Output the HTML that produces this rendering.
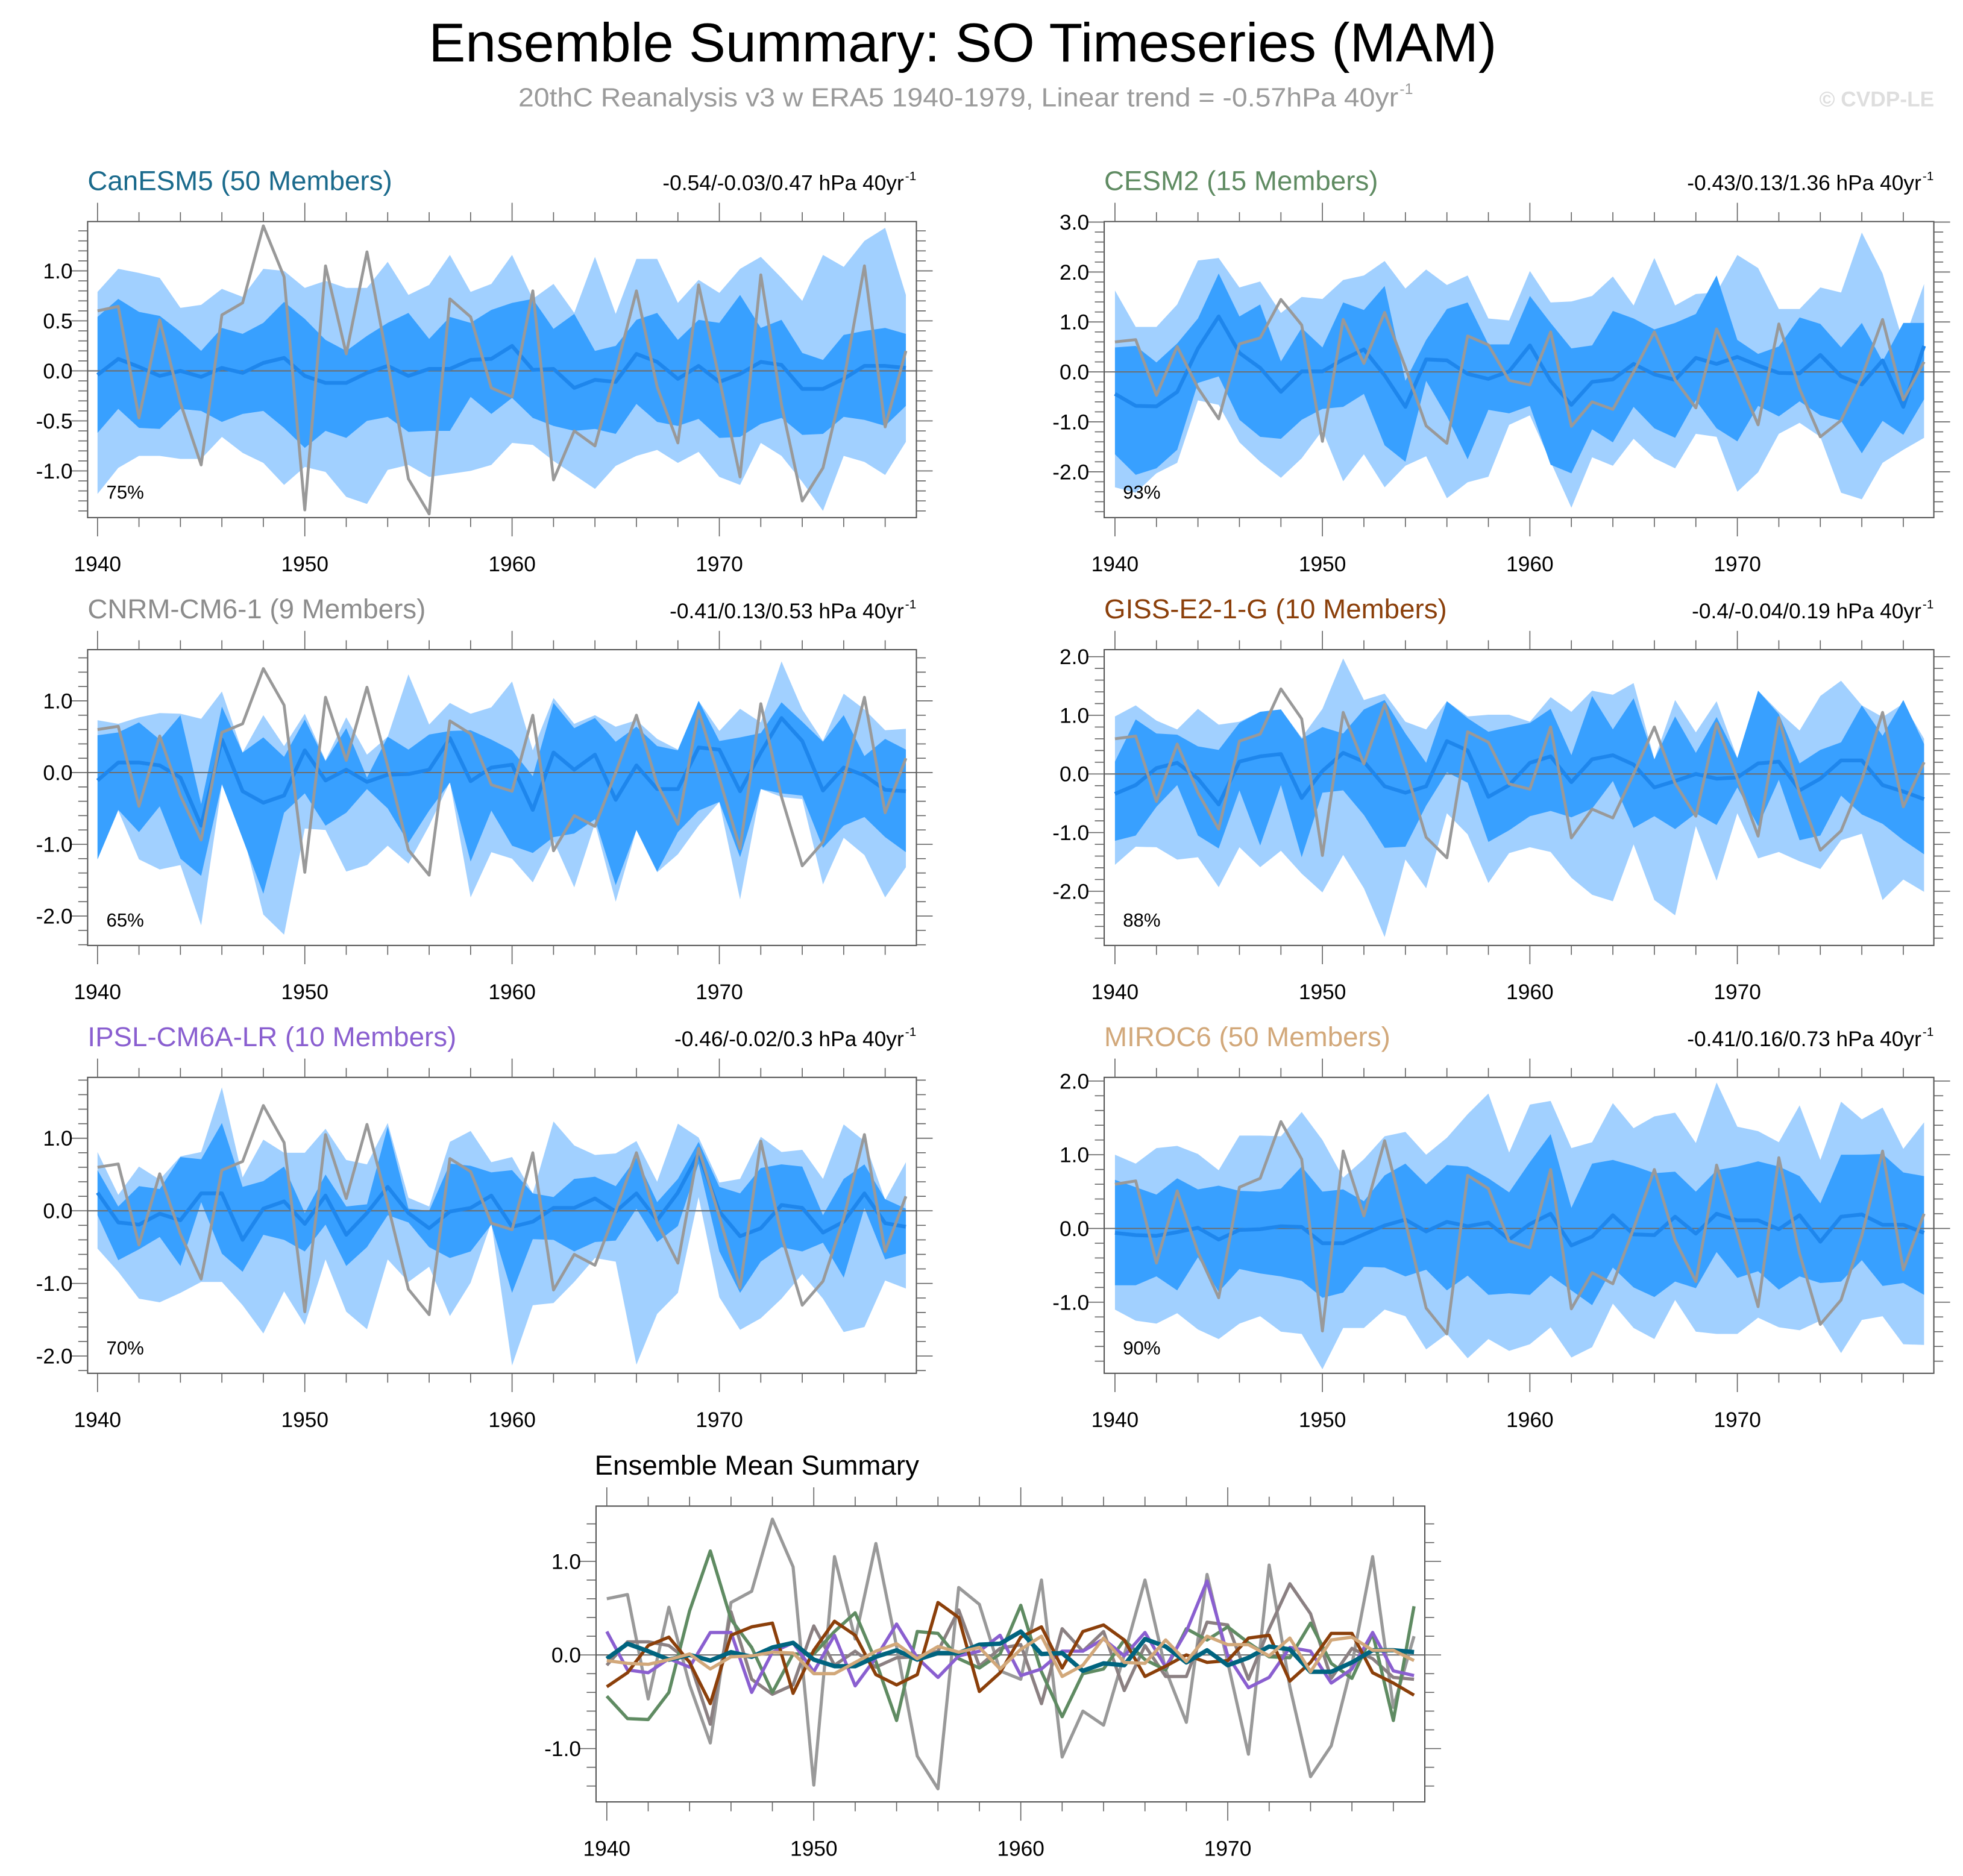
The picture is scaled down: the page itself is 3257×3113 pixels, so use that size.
<!DOCTYPE html>
<html><head><meta charset="utf-8"><title>Ensemble Summary: SO Timeseries (MAM)</title>
<style>html,body{margin:0;padding:0;background:#fff}svg{display:block}</style></head>
<body>
<svg id="chart" xmlns="http://www.w3.org/2000/svg" width="3257" height="3113" viewBox="0 0 1568 1498.7" preserveAspectRatio="none" font-family="'Liberation Sans', sans-serif">
<text x="769" y="49" font-size="44" text-anchor="middle" fill="#000">Ensemble Summary: SO Timeseries (MAM)</text>
<text x="414" y="85" font-size="21" fill="#9a9a9a" textLength="703" lengthAdjust="spacingAndGlyphs">20thC Reanalysis v3 w ERA5 1940-1979, Linear trend = -0.57hPa 40yr</text>
<text x="1118" y="75" font-size="12" fill="#9a9a9a">-1</text>
<text x="1545" y="85" font-size="17" font-weight="bold" text-anchor="end" fill="#dedede">© CVDP-LE</text>
<text x="475" y="1178" font-size="22" fill="#000">Ensemble Mean Summary</text>
<g id="plots"></g>
</svg>
<script>
const years = [1940,1941,1942,1943,1944,1945,1946,1947,1948,1949,1950,1951,1952,1953,1954,1955,1956,1957,1958,1959,1960,1961,1962,1963,1964,1965,1966,1967,1968,1969,1970,1971,1972,1973,1974,1975,1976,1977,1978,1979];
const obs = [0.60,0.645,-0.47,0.51,-0.32,-0.94,0.56,0.68,1.45,0.94,-1.39,1.05,0.17,1.19,0.09,-1.08,-1.43,0.72,0.54,-0.17,-0.26,0.80,-1.09,-0.60,-0.75,0.0,0.80,-0.16,-0.72,0.86,-0.08,-1.06,0.96,-0.34,-1.30,-0.97,-0.10,1.05,-0.56,0.20];

const canMean = [-0.04,0.12,0.04,-0.05,0,-0.06,0.03,-0.02,0.08,0.13,-0.05,-0.12,-0.12,-0.02,0.05,-0.05,0.02,0.02,0.11,0.12,0.25,0.01,0.02,-0.17,-0.09,-0.11,0.17,0.09,-0.08,0.05,-0.11,-0.03,0.09,0.06,-0.18,-0.18,-0.08,0.05,0.05,0.03];
const canDarkHi = [0.54,0.72,0.59,0.55,0.39,0.2,0.43,0.37,0.48,0.69,0.52,0.31,0.2,0.35,0.48,0.58,0.32,0.54,0.48,0.61,0.68,0.72,0.42,0.57,0.2,0.25,0.51,0.58,0.31,0.51,0.48,0.76,0.43,0.51,0.18,0.11,0.36,0.40,0.43,0.37];
const canDarkLo = [-0.62,-0.38,-0.57,-0.58,-0.38,-0.40,-0.51,-0.43,-0.40,-0.57,-0.77,-0.6,-0.67,-0.5,-0.46,-0.61,-0.60,-0.6,-0.26,-0.43,-0.27,-0.47,-0.55,-0.6,-0.58,-0.63,-0.33,-0.51,-0.55,-0.48,-0.67,-0.66,-0.53,-0.47,-0.64,-0.63,-0.46,-0.49,-0.55,-0.35];
const canLightHi = [0.79,1.02,0.98,0.93,0.63,0.66,0.82,0.74,1.02,1.0,0.83,0.9,0.83,0.83,1.09,0.76,0.86,1.16,0.79,0.87,1.16,0.72,0.87,0.58,1.14,0.57,1.12,1.12,0.68,0.91,0.78,1.02,1.14,0.93,0.70,1.16,1.04,1.30,1.43,0.76];
const canLightLo = [-1.23,-0.97,-0.85,-0.85,-0.88,-0.88,-0.66,-0.82,-0.92,-1.14,-0.96,-1.01,-1.26,-1.33,-0.99,-0.94,-1.06,-1.03,-1.0,-0.94,-0.72,-0.74,-0.9,-1.04,-1.18,-0.95,-0.85,-0.79,-0.92,-0.81,-1.06,-1.14,-0.72,-0.85,-1.11,-1.40,-0.85,-0.91,-1.04,-0.71];

const cesmMean = [-0.44,-0.68,-0.69,-0.40,0.47,1.11,0.38,0.08,-0.40,0.01,0.01,0.25,0.45,-0.07,-0.70,0.25,0.23,-0.04,-0.14,0.01,0.53,-0.18,-0.66,-0.20,-0.15,0.16,-0.05,-0.16,0.28,0.16,0.30,0.13,-0.02,-0.03,0.34,-0.09,-0.25,0.23,-0.70,0.52];
const cesmDarkHi = [0.49,0.52,0.19,0.57,1.07,1.97,1.11,1.35,0.21,0.88,0.49,1.39,1.24,1.72,-0.18,0.64,1.26,1.39,0.55,0.55,1.52,0.98,0.47,0.53,1.22,1.07,0.85,0.98,1.16,1.93,0.64,0.36,0.51,1.09,0.96,0.49,0.98,0.21,0.98,0.98];
const cesmDarkLo = [-1.65,-2.06,-1.93,-1.56,-0.22,-0.09,-0.96,-1.30,-1.34,-0.96,-0.74,-0.70,-0.44,-1.47,-1.80,-0.18,-0.89,-1.75,-0.76,-0.83,-0.68,-1.86,-2.03,-1.15,-1.41,-0.70,-1.13,-1.32,-0.57,-1.13,-1.39,-0.68,-0.89,-0.59,-0.87,-0.98,-1.63,-0.98,-1.26,-0.55];
const cesmLightHi = [1.63,0.90,0.90,1.35,2.23,2.28,1.69,1.81,1.18,1.50,1.46,1.84,1.93,2.22,1.67,2.05,1.74,1.93,1.07,1.03,2.02,1.39,1.41,1.52,1.91,1.33,2.28,1.33,1.56,1.59,2.34,2.08,1.26,1.26,1.69,1.59,2.79,1.97,0.59,1.76];
const cesmLightLo = [-2.31,-2.42,-2.03,-1.82,-0.57,-0.66,-1.41,-1.80,-2.12,-1.73,-1.17,-2.19,-1.65,-2.31,-1.88,-1.69,-2.53,-2.21,-2.10,-1.06,-0.87,-1.80,-2.72,-1.71,-1.88,-1.34,-1.73,-1.93,-1.24,-1.30,-2.40,-2.01,-1.24,-1.02,-1.30,-2.42,-2.55,-1.82,-1.56,-1.32];

const cnrmMean = [-0.11,0.14,0.14,0.10,-0.07,-0.74,0.46,-0.26,-0.42,-0.32,0.31,-0.11,0.04,-0.13,-0.03,-0.02,0.04,0.48,-0.12,0.07,0.11,-0.52,0.28,0.04,0.25,-0.38,0.10,-0.23,-0.23,0.35,0.32,-0.26,0.28,0.76,0.44,-0.25,0.07,-0.04,-0.24,-0.26];
const cnrmDarkHi = [0.52,0.56,0.70,0.46,0.80,-0.44,0.92,0.28,0.49,0.22,0.74,0.16,0.62,-0.07,0.50,0.32,0.53,0.58,0.59,0.46,0.31,-0.05,0.97,0.62,0.76,0.43,0.64,0.37,0.31,1.00,0.44,0.49,0.55,0.98,0.71,0.43,0.80,0.23,0.47,0.32];
const cnrmDarkLo = [-1.21,-0.52,-0.83,-0.47,-1.20,-1.44,-0.16,-0.92,-1.69,-0.56,-0.29,-0.74,-0.56,-0.23,-0.50,-0.98,-0.53,-0.14,-1.24,-0.53,-1.02,-1.12,-0.90,-0.85,-0.65,-1.57,-0.80,-1.38,-0.83,-0.53,-0.41,-1.18,-0.23,-0.29,-0.32,-1.05,-0.74,-0.62,-0.90,-1.11];
const cnrmLightHi = [0.73,0.68,0.77,0.83,0.82,0.75,1.13,0.28,0.80,0.37,0.82,0.17,0.77,0.25,0.50,1.37,0.67,0.97,0.82,0.91,1.27,0.31,1.04,0.68,0.80,0.64,0.73,0.47,0.32,1.00,0.58,0.89,0.70,1.55,0.88,0.44,1.10,0.88,0.59,0.61];
const cnrmLightLo = [-1.21,-0.53,-1.21,-1.35,-1.29,-2.13,-0.17,-0.83,-1.98,-2.26,-0.78,-0.80,-1.38,-1.29,-1.02,-1.27,-0.74,-0.13,-1.74,-1.11,-1.20,-1.53,-0.95,-1.60,-0.71,-1.80,-0.80,-1.39,-1.14,-0.74,-0.41,-1.77,-0.23,-0.34,-0.37,-1.56,-0.91,-1.15,-1.74,-1.32];

const gissMean = [-0.34,-0.19,0.10,0.19,-0.08,-0.52,0.21,0.30,0.34,-0.41,0.05,0.36,0.21,-0.21,-0.32,-0.21,0.56,0.40,-0.39,-0.19,0.19,0.30,-0.14,0.25,0.32,0.16,-0.23,-0.12,0.0,-0.08,-0.06,0.18,0.21,-0.28,-0.08,0.23,0.23,-0.19,-0.30,-0.43];
const gissDarkHi = [0.21,0.93,0.69,0.67,0.47,0.41,0.87,1.06,1.10,0.60,0.80,0.69,1.10,1.26,0.69,0.19,1.24,0.95,0.72,0.80,0.87,1.11,0.32,1.33,0.76,1.29,0.25,0.98,0.36,0.97,0.27,1.42,1.02,0.18,0.41,0.54,1.17,0.65,1.26,0.51];
const gissDarkLo = [-1.14,-1.05,-0.56,-0.19,-1.05,-1.27,-0.28,-1.22,-0.19,-1.42,-0.32,-0.28,-0.70,-1.26,-1.24,-0.54,0.03,-0.15,-1.16,-0.96,-0.72,-0.63,-0.74,-0.59,-0.12,-0.92,-0.72,-0.94,-0.67,-0.87,-0.23,-0.89,-0.10,-1.13,-1.05,-0.37,-0.69,-0.85,-1.13,-1.37];
const gissLightHi = [0.98,1.17,0.91,0.76,1.11,0.84,0.89,1.06,1.10,0.62,1.11,1.97,1.26,1.37,0.89,0.76,1.24,0.98,1.01,1.01,0.89,1.31,1.06,1.42,1.35,1.55,0.25,1.26,0.71,1.24,0.27,1.42,1.06,0.74,1.33,1.59,1.17,0.97,1.20,0.60];
const gissLightLo = [-1.55,-1.24,-1.25,-1.46,-1.42,-1.93,-1.25,-1.59,-1.31,-1.70,-2.02,-1.38,-1.95,-2.78,-1.46,-1.95,-0.67,-1.03,-1.86,-1.35,-1.25,-1.33,-1.77,-2.06,-2.17,-1.20,-2.15,-2.41,-0.89,-1.82,-0.67,-1.44,-1.33,-1.49,-1.62,-1.13,-1.02,-2.15,-1.80,-2.01];

const ipslMean = [0.25,-0.16,-0.19,-0.04,-0.13,0.24,0.24,-0.40,0.03,0.13,-0.18,0.21,-0.33,-0.03,0.33,-0.03,-0.24,-0.01,0.04,0.21,-0.22,-0.15,0.04,0.04,0.17,-0.01,0.24,-0.13,0.25,0.79,-0.01,-0.35,-0.24,0.08,0.04,-0.30,-0.15,0.24,-0.17,-0.22];
const ipslDarkHi = [0.56,0.06,0.34,0.30,0.74,0.71,1.21,0.33,0.41,0.61,-0.03,0.50,0.06,0.09,1.16,0.03,0.0,0.65,0.62,0.53,0.56,0.24,0.19,0.44,0.47,0.34,0.73,0.12,0.44,0.95,0.33,0.24,0.59,0.64,0.61,-0.06,0.44,0.64,0.16,0.03];
const ipslDarkLo = [-0.06,-0.68,-0.53,-0.36,-0.76,0.12,-0.59,-0.84,-0.33,-0.40,-0.56,-0.19,-0.76,-0.50,-0.06,-0.16,-0.50,-0.65,-0.56,-0.19,-1.13,-0.39,-0.40,-0.56,-0.43,-0.41,0.03,-0.43,-0.21,0.65,-0.56,-1.13,-0.70,-0.50,-0.56,-0.44,-0.92,0.04,-0.67,-0.59];
const ipslLightHi = [0.81,0.22,0.61,0.43,0.75,0.81,1.70,0.46,0.98,0.80,0.80,1.13,0.70,0.64,1.21,0.18,0.06,0.95,1.10,0.67,0.74,0.24,1.23,0.90,0.77,0.79,0.96,0.40,1.20,1.01,0.39,0.44,1.02,0.81,0.84,0.44,1.19,0.96,0.15,0.67];
const ipslLightLo = [-0.52,-0.84,-1.21,-1.26,-1.13,-0.98,-0.98,-1.30,-1.69,-1.11,-1.57,-0.67,-1.39,-1.63,-0.67,-0.98,-0.77,-1.45,-0.99,-0.16,-2.13,-1.30,-1.27,-0.98,-0.65,-0.70,-2.12,-1.42,-1.13,0.19,-1.19,-1.64,-1.48,-1.21,-0.87,-1.21,-1.67,-1.60,-0.96,-1.07];

const mirocMean = [-0.06,-0.09,-0.10,-0.05,0.01,-0.15,-0.02,-0.01,0.03,0.02,-0.20,-0.20,-0.08,0.04,0.12,-0.04,0.09,0.03,0.08,-0.15,0.06,0.20,-0.23,-0.11,0.18,-0.08,-0.09,0.16,-0.07,0.20,0.11,0.11,-0.01,0.18,-0.18,0.16,0.19,0.05,0.05,-0.06];
const mirocDarkHi = [0.66,0.56,0.46,0.68,0.53,0.58,0.51,0.50,0.54,0.84,0.50,0.53,0.37,0.72,0.88,0.60,0.86,0.84,0.68,0.49,0.90,1.28,0.28,0.88,0.93,0.85,0.75,0.77,0.50,0.79,0.84,0.91,0.84,0.71,0.34,1.00,1.00,1.01,0.76,0.71];
const mirocDarkLo = [-0.77,-0.77,-0.65,-0.84,-0.39,-0.86,-0.55,-0.61,-0.65,-0.71,-0.94,-0.87,-0.52,-0.53,-0.65,-0.56,-0.84,-0.64,-0.90,-0.88,-0.90,-0.64,-0.84,-1.04,-0.53,-0.80,-0.93,-0.72,-0.81,-0.32,-0.67,-0.58,-0.83,-0.65,-0.74,-0.72,-0.43,-0.78,-0.74,-0.90];
const mirocLightHi = [1.00,0.88,1.09,1.12,1.01,0.79,1.26,1.26,1.25,1.58,1.20,0.69,0.94,1.25,1.31,1.00,1.23,1.55,1.83,1.03,1.68,1.73,1.09,1.17,1.70,1.36,1.52,1.57,1.16,1.98,1.38,1.32,1.17,1.67,0.93,1.72,1.48,1.64,1.08,1.44];
const mirocLightLo = [-1.10,-1.25,-1.29,-1.15,-1.37,-1.50,-1.29,-1.19,-1.40,-1.43,-1.91,-1.35,-1.35,-1.10,-1.19,-1.64,-1.43,-1.76,-1.50,-1.66,-1.57,-1.34,-1.75,-1.61,-1.02,-1.35,-1.50,-0.97,-1.40,-1.43,-1.43,-1.21,-1.34,-1.38,-1.25,-1.69,-1.24,-1.19,-1.57,-1.58];

const modelNames = ["CanESM5 (50 Members)","CESM2 (15 Members)","CNRM-CM6-1 (9 Members)","GISS-E2-1-G (10 Members)","IPSL-CM6A-LR (10 Members)","MIROC6 (50 Members)"];
const trendLabels = ["-0.54/-0.03/0.47 hPa 40yr","-0.43/0.13/1.36 hPa 40yr","-0.41/0.13/0.53 hPa 40yr","-0.4/-0.04/0.19 hPa 40yr","-0.46/-0.02/0.3 hPa 40yr","-0.41/0.16/0.73 hPa 40yr"];
const pctLabels = ["75%","93%","65%","88%","70%","90%"];
const yTickLabels = [["1.0","0.5","0.0","-0.5","-1.0"],["3.0","2.0","1.0","0.0","-1.0","-2.0"],["1.0","0.0","-1.0","-2.0"],["2.0","1.0","0.0","-1.0","-2.0"],["1.0","0.0","-1.0","-2.0"],["2.0","1.0","0.0","-1.0"]];
const summaryTickLabels = ["1.0","0.0","-1.0"];
const xTickLabels = ["1940","1950","1960","1970"];

const series = [
 {mean:canMean, dHi:canDarkHi, dLo:canDarkLo, lHi:canLightHi, lLo:canLightLo},
 {mean:cesmMean, dHi:cesmDarkHi, dLo:cesmDarkLo, lHi:cesmLightHi, lLo:cesmLightLo},
 {mean:cnrmMean, dHi:cnrmDarkHi, dLo:cnrmDarkLo, lHi:cnrmLightHi, lLo:cnrmLightLo},
 {mean:gissMean, dHi:gissDarkHi, dLo:gissDarkLo, lHi:gissLightHi, lLo:gissLightLo},
 {mean:ipslMean, dHi:ipslDarkHi, dLo:ipslDarkLo, lHi:ipslLightHi, lLo:ipslLightLo},
 {mean:mirocMean, dHi:mirocDarkHi, dLo:mirocDarkLo, lHi:mirocLightHi, lLo:mirocLightLo}
];
const titleColors = ["#1a6a8c","#5f8b62","#8c8c8c","#8b3f0a","#8a5fd0","#d2a87a"];
const summaryColors = ["#00647f","#5f8b62","#8b8082","#8b3f0a","#8a5fd0","#d2a87a"];

const NS = "http://www.w3.org/2000/svg";
const root = document.getElementById("plots");
function mk(tag, attrs, parent){const e=document.createElementNS(NS,tag);for(const k in attrs)e.setAttribute(k,attrs[k]);(parent||root).appendChild(e);return e;}

const layout = [
 {bx0:70,bx1:732,by0:177,by1:413.5,xa:77.9,xb:723.6,zero:296.3,unit:79.9,major:0.5,minor:0.1},
 {bx0:882,bx1:1544.7,by0:177,by1:413.5,xa:890.6,xb:1536.9,zero:297.1,unit:39.9,major:1,minor:0.2},
 {bx0:70,bx1:732,by0:519,by1:755.3,xa:77.9,xb:723.6,zero:617.2,unit:57.3,major:1,minor:0.2},
 {bx0:882,bx1:1544.7,by0:519,by1:755.3,xa:890.6,xb:1536.9,zero:618.3,unit:46.85,major:1,minor:0.2},
 {bx0:70,bx1:732,by0:860.7,by1:1097.1,xa:77.9,xb:723.6,zero:967.3,unit:58.0,major:1,minor:0.2},
 {bx0:882,bx1:1544.7,by0:860.7,by1:1097.1,xa:890.6,xb:1536.9,zero:981.4,unit:58.9,major:1,minor:0.2}
];
const summaryLayout = {bx0:476.1,bx1:1138.1,by0:1203.2,by1:1439.5,xa:484.7,xb:1129.5,zero:1322.1,unit:74.8,major:1,minor:0.2};

function axes(L){
  return {
    x: yr => L.xa + (yr - years[0]) * (L.xb - L.xa) / (years[years.length-1] - years[0]),
    y: v => L.zero - v * L.unit
  };
}
function pts(A, arr){return arr.map((v,i)=>A.x(years[i]).toFixed(2)+","+A.y(v).toFixed(2));}
function band(A, hi, lo, g, fill, name){
  const p = pts(A,hi).concat(pts(A,lo).reverse());
  const el = mk("polygon",{points:p.join(" "),fill:fill},g);
  
  
}
function line(A, arr, g, color, w, name){
  const el = mk("polyline",{points:pts(A,arr).join(" "),fill:"none",stroke:color,"stroke-width":w,"stroke-linejoin":"round"},g);
  
  
}
function frame(L, A, g, labels, prefix){
  const vTop=(L.zero-L.by0)/L.unit, vBot=(L.zero-L.by1)/L.unit;
  const zl = mk("line",{x1:L.bx0,x2:L.bx1,y1:A.y(0),y2:A.y(0),stroke:"#6e6e6e","stroke-width":1},g);
  
  
  const box = mk("rect",{x:L.bx0,y:L.by0,width:L.bx1-L.bx0,height:L.by1-L.by0,fill:"none",stroke:"#555","stroke-width":1},g);
  
  
  const tg = mk("g",{stroke:"#666","stroke-width":0.8},g);
  
  
  for(let yr=years[0]; yr<=years[years.length-1]; yr+=2){
    const major = (yr%10===0), len = major?15:7.5, xx=A.x(yr);
    mk("line",{x1:xx,x2:xx,y1:L.by1,y2:L.by1+len},tg);
    mk("line",{x1:xx,x2:xx,y1:L.by0,y2:L.by0-len},tg);
  }
  const n0=Math.ceil(vBot/L.minor-1e-6), n1=Math.floor(vTop/L.minor+1e-6);
  for(let n=n0;n<=n1;n++){
    const v=n*L.minor; const major=Math.abs(v/L.major-Math.round(v/L.major))<1e-6; const len=major?13:7.5;
    mk("line",{x1:L.bx0,x2:L.bx0-len,y1:A.y(v),y2:A.y(v)},tg);
    mk("line",{x1:L.bx1,x2:L.bx1+len,y1:A.y(v),y2:A.y(v)},tg);
  }
  labels.forEach(s=>{
    const v=parseFloat(s);
    const t=mk("text",{x:L.bx0-12,y:A.y(v)+6,"font-size":17,"text-anchor":"end",fill:"#000"},g);
    t.textContent=s;
    
    
  });
  xTickLabels.forEach(s=>{
    const t=mk("text",{x:A.x(parseInt(s)),y:L.by1+43,"font-size":17,"text-anchor":"middle",fill:"#000"},g);
    t.textContent=s;
    
    
  });
}

series.forEach((s,i)=>{
  const L=layout[i], A=axes(L);
  const g=mk("g",{});
  
  
  band(A, s.lHi, s.lLo, g, "#a1d0ff", "outer-spread-band");
  band(A, s.dHi, s.dLo, g, "#38a0ff", "inner-spread-band");
  frame(L, A, g, yTickLabels[i], 'panel-'+(i+1));
  line(A, s.mean, g, "#1e86ec", 3, "ensemble-mean-line");
  line(A, obs, g, "#999999", 2.3, "observed-line");
  const t=mk("text",{x:L.bx0,y:L.by0-25,"font-size":22,fill:titleColors[i]},g);
  t.textContent=modelNames[i];
  
  
  const tr=mk("text",{x:L.bx1-10,y:L.by0-25,"font-size":17,"text-anchor":"end",fill:"#000"},g);
  tr.textContent=trendLabels[i];
  
  
  const sup=mk("text",{x:L.bx1-9,y:L.by0-33,"font-size":10,fill:"#000"},g);
  sup.textContent="-1";
  
  
  const pc=mk("text",{x:L.bx0+15,y:L.by1-15,"font-size":15,fill:"#000"},g);
  pc.textContent=pctLabels[i];
  
  
});

(function(){
  const L=summaryLayout, A=axes(L);
  const g=mk("g",{});
  
  
  frame(L, A, g, summaryTickLabels, 'summary');
  line(A, obs, g, "#999999", 2.5, "summary-observed-line");
  const order=[2,1,4,3,0,5];
  order.forEach(k=>{
    line(A, series[k].mean, g, summaryColors[k], k===0?3.5:2.6, "summary-mean-line-"+(k+1));
  });
})();
</script>
</body></html>
